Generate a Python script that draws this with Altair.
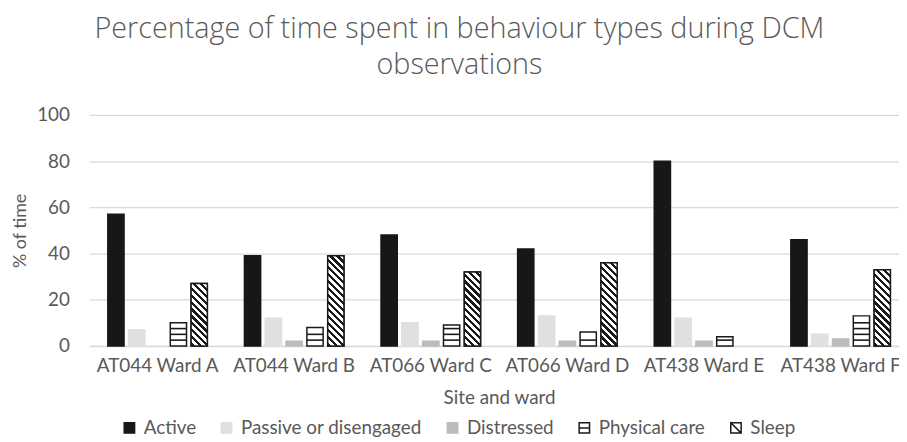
import altair as alt
import pandas as pd

# ---------------- data ----------------
wards = ["AT044 Ward A", "AT044 Ward B", "AT066 Ward C",
         "AT066 Ward D", "AT438 Ward E", "AT438 Ward F"]
series_names = ["Active", "Passive or disengaged", "Distressed",
                "Physical care", "Sleep"]
active = [57, 39, 48, 42, 80, 46]
passive = [7, 12, 10, 13, 12, 5]
distressed = [0, 2, 2, 2, 2, 3]
physical_care = [10, 8, 9, 6, 4, 13]
sleep = [27, 39, 32, 36, 0, 33]
y_ticks = [0, 20, 40, 60, 80, 100]

values_by_series = {
    "Active": active,
    "Passive or disengaged": passive,
    "Distressed": distressed,
    "Physical care": physical_care,
    "Sleep": sleep,
}
df = pd.DataFrame(
    [{"ward": w, "series": s, "value": values_by_series[s][i]}
     for s in series_names for i, w in enumerate(wards)]
)

# ---------------- layout / style ----------------
PLOT_W, PLOT_H = 827, 233
OFF_PI, OFF_PO = 0.22, 0.89
band = PLOT_W / len(wards)
step = band / (len(series_names) - OFF_PI + 2 * OFF_PO)
bar_w = step * (1 - OFF_PI)

TEXT = "#595959"
FONT = "Lato"
TITLE_FONT = "Open Sans"
GRID = "#d9d9d9"
INK = "#1a1a1a"
fills = ["#171717", "#e0e0e0", "#bcbcbc", "#ffffff", "#ffffff"]
strokes = ["#171717", "#e0e0e0", "#bcbcbc", INK, INK]
shapes = ["square", "square", "square",
          "M-1,-1H1V1H-1Z M-1,0H1",
          "M-1,-1H1V1H-1Z M-1,-1L1,1"]

# horizontal hatch lines for "Physical care" bars (decoration only)
HATCH = 2.5
stripe_rows = []
for i, w in enumerate(wards):
    v = physical_care[i]
    k = 1
    while k * HATCH < v - 1:
        stripe_rows.append({"ward": w, "series": "Physical care", "value": k * HATCH})
        k += 1
stripes_df = pd.DataFrame(stripe_rows)

x_enc = alt.X(
    "ward:N", sort=wards,
    scale=alt.Scale(domain=wards, paddingInner=0, paddingOuter=0),
    axis=alt.Axis(title="Site and ward", labelAngle=0, ticks=False,
                  domainColor=GRID, domainWidth=1.5,
                  labelFont=FONT, labelFontSize=19, labelColor=TEXT,
                  labelPadding=11, labelLimit=0, titleFont=FONT, titleFontSize=19,
                  titleColor=TEXT, titleFontWeight="normal", titlePadding=13),
)
xoff_enc = alt.XOffset(
    "series:N",
    scale=alt.Scale(domain=series_names, paddingInner=OFF_PI, paddingOuter=OFF_PO),
)
y_enc = alt.Y(
    "value:Q",
    scale=alt.Scale(domain=[0, 100], nice=False),
    axis=alt.Axis(values=y_ticks, title="% of time", ticks=False, domain=False,
                  grid=True, gridColor=GRID, gridWidth=1.2,
                  labelFont=FONT, labelFontSize=19, labelColor=TEXT,
                  labelPadding=20, titleFont=FONT, titleFontSize=18,
                  titleColor=TEXT, titleFontWeight="normal", titlePadding=7),
)

bars = alt.Chart(df).transform_filter("datum.value > 0").mark_bar(
    strokeWidth=1.5
).encode(
    x=x_enc, xOffset=xoff_enc, y=y_enc,
    fill=alt.Fill("series:N", scale=alt.Scale(domain=series_names, range=fills), legend=None),
    stroke=alt.Stroke("series:N", scale=alt.Scale(domain=series_names, range=strokes), legend=None),
)

hatch = alt.Chart(stripes_df).mark_tick(
    color=INK, thickness=1.6, size=bar_w, opacity=1
).encode(x=x_enc, xOffset=xoff_enc, y=y_enc)


def diag_gradient(value, period=7.0, ink=3.2):
    h = value * PLOT_H / 100.0
    w = bar_w
    T = w + h
    k = (w + h) / (w * w + h * h)
    stops = [alt.GradientStop(offset=0, color="#ffffff")]
    c = 1.0
    while c < T:
        a = c / T
        b = min((c + ink) / T, 1.0)
        stops += [alt.GradientStop(offset=a, color="#ffffff"),
                  alt.GradientStop(offset=a, color=INK),
                  alt.GradientStop(offset=b, color=INK),
                  alt.GradientStop(offset=b, color="#ffffff")]
        c += period
    stops.append(alt.GradientStop(offset=1, color="#ffffff"))
    return alt.LinearGradient(gradient="linear", stops=stops,
                              x1=0, y1=1, x2=k * w, y2=1 - k * h)


sleep_layers = []
for i, w in enumerate(wards):
    if sleep[i] > 0:
        sleep_layers.append(
            alt.Chart(df).transform_filter(
                f"datum.series == 'Sleep' && datum.ward == '{w}'"
            ).mark_bar(fill=diag_gradient(sleep[i]), stroke=INK, strokeWidth=1.5)
            .encode(x=x_enc, xOffset=xoff_enc, y=y_enc)
        )

leg = alt.Legend(orient="none", legendX=31, legendY=306, direction="horizontal",
                 title=None, labelFont=FONT, labelFontSize=19, labelColor=TEXT,
                 labelLimit=0, symbolSize=110, symbolStrokeWidth=1.5,
                 columnPadding=21, labelOffset=5)
legend_layer = alt.Chart(df).transform_filter("false").mark_point(
    filled=True, size=110, strokeWidth=1.5, opacity=1
).encode(
    x=x_enc, y=y_enc,
    fill=alt.Fill("series:N", scale=alt.Scale(domain=series_names, range=fills), legend=leg),
    stroke=alt.Stroke("series:N", scale=alt.Scale(domain=series_names, range=strokes), legend=leg),
    shape=alt.Shape("series:N", scale=alt.Scale(domain=series_names, range=shapes), legend=leg),
)

chart = alt.layer(bars, hatch, *sleep_layers, legend_layer).resolve_scale(
    fill="independent", stroke="independent", shape="independent"
).properties(
    width=PLOT_W, height=PLOT_H,
    title=alt.Title(
        ["Percentage of time spent in behaviour types during DCM", "observations"],
        font=TITLE_FONT, fontSize=29, fontWeight=300, color=TEXT,
        lineHeight=37, anchor="middle", offset=26, dx=-40,
    ),
    autosize=alt.AutoSizeParams(type="none"),
    padding={"left": 82, "top": 106, "right": -10, "bottom": 90},
).configure_view(stroke=None)

chart.save("out.html", embed_options={"renderer": "svg", "actions": False})
